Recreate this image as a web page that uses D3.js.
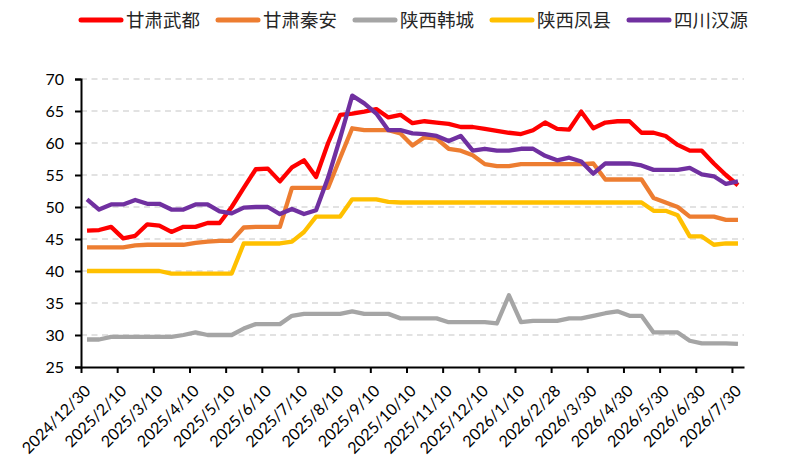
<!DOCTYPE html>
<html>
<head>
<meta charset="utf-8">
<script src="https://cdn.jsdelivr.net/npm/d3@7"></script>
<style>
  html, body { margin: 0; padding: 0; background: #fff; }
  svg { display: block; }
</style>
</head>
<body>
<svg id="chart" width="787" height="474"></svg>
<script>
// 数据：55 个时间点，x 轴每 3 个点标一次日期
const tickLabels = [
  "2024/12/30", "2025/2/10", "2025/3/10", "2025/4/10", "2025/5/10", "2025/6/10",
  "2025/7/10", "2025/8/10", "2025/9/10", "2025/10/10", "2025/11/10", "2025/12/10",
  "2026/1/10", "2026/2/28", "2026/3/30", "2026/4/30", "2026/5/30", "2026/6/30", "2026/7/30"
];

const seriesNames = ["甘肃武都", "甘肃秦安", "陕西韩城", "陕西凤县", "四川汉源"];

const wudu = [
  46.3, 46.4, 46.9, 45.1, 45.5, 47.3, 47.1, 46.1, 46.9, 46.9,
  47.5, 47.5, 50.0, 53.0, 55.9, 56.0, 54.0, 56.2, 57.3, 54.7,
  60.0, 64.4, 64.6, 64.9, 65.3, 64.0, 64.4, 63.1, 63.4, 63.2,
  63.0, 62.5, 62.5, 62.2, 61.9, 61.6, 61.4, 62.0, 63.2, 62.2,
  62.1, 64.9, 62.3, 63.2, 63.4, 63.4, 61.6, 61.6, 61.1, 59.7,
  58.8, 58.8, 56.8, 55.0, 53.4
];
const qinan = [
  43.7, 43.7, 43.7, 43.7, 44.0, 44.1, 44.1, 44.1, 44.1, 44.4,
  44.6, 44.7, 44.7, 46.8, 46.9, 46.9, 46.9, 53.0, 53.0, 53.0,
  53.0, 57.7, 62.3, 62.0, 62.0, 62.0, 61.5, 59.6, 60.9, 60.7,
  59.1, 58.8, 58.1, 56.7, 56.4, 56.4, 56.7, 56.7, 56.7, 56.7,
  56.7, 56.7, 56.8, 54.3, 54.3, 54.3, 54.3, 51.4, 50.7, 50.0,
  48.5, 48.5, 48.5, 48.0, 48.0
];
const hancheng = [
  29.3, 29.3, 29.7, 29.7, 29.7, 29.7, 29.7, 29.7, 30.0, 30.4,
  30.0, 30.0, 30.0, 31.0, 31.7, 31.7, 31.7, 33.0, 33.3, 33.3,
  33.3, 33.3, 33.7, 33.3, 33.3, 33.3, 32.6, 32.6, 32.6, 32.6,
  32.0, 32.0, 32.0, 32.0, 31.8, 36.2, 32.0, 32.2, 32.2, 32.2,
  32.6, 32.6, 33.0, 33.4, 33.7, 33.0, 33.0, 30.4, 30.4, 30.4,
  29.1, 28.7, 28.7, 28.7, 28.6
];
const fengxian = [
  40.0, 40.0, 40.0, 40.0, 40.0, 40.0, 40.0, 39.6, 39.6, 39.6,
  39.6, 39.6, 39.6, 44.3, 44.3, 44.3, 44.3, 44.6, 46.1, 48.5,
  48.5, 48.5, 51.2, 51.2, 51.2, 50.8, 50.7, 50.7, 50.7, 50.7,
  50.7, 50.7, 50.7, 50.7, 50.7, 50.7, 50.7, 50.7, 50.7, 50.7,
  50.7, 50.7, 50.7, 50.7, 50.7, 50.7, 50.7, 49.4, 49.4, 48.7,
  45.4, 45.4, 44.1, 44.3, 44.3
];
const hanyuan = [
  51.2, 49.6, 50.4, 50.4, 51.1, 50.5, 50.5, 49.6, 49.6, 50.4,
  50.4, 49.3, 49.0, 49.9, 50.0, 50.0, 48.9, 49.7, 48.9, 49.5,
  54.6, 60.8, 67.4, 66.2, 64.6, 62.0, 62.0, 61.5, 61.4, 61.1,
  60.3, 61.1, 58.8, 59.1, 58.8, 58.8, 59.1, 59.1, 58.0, 57.3,
  57.7, 57.1, 55.2, 56.8, 56.8, 56.8, 56.5, 55.8, 55.8, 55.8,
  56.1, 55.1, 54.8, 53.6, 54.0
];

const colors = ["#FF0000", "#ED7D31", "#A5A5A5", "#FFC000", "#7030A0"];
const allSeries = [wudu, qinan, hancheng, fengxian, hanyuan];

const svg = d3.select("#chart");
const plot = { left: 81, right: 744, top: 79, bottom: 367 };
const nPoints = wudu.length;

// x：按类目宽度划分，点在类目中心，刻度在类目左边界
const x = d3.scaleLinear().domain([0, nPoints]).range([plot.left, plot.right]);
const y = d3.scaleLinear().domain([25, 70]).range([plot.bottom, plot.top]);

// 网格线（虚线）
svg.append("g")
  .selectAll("line")
  .data(d3.range(30, 71, 5))
  .join("line")
  .attr("x1", plot.left)
  .attr("x2", plot.right)
  .attr("y1", d => y(d))
  .attr("y2", d => y(d))
  .attr("stroke", "#D9D9D9")
  .attr("stroke-width", 1.5)
  .attr("stroke-dasharray", "6,4.5");

// y 轴
const yAxis = svg.append("g")
  .attr("transform", `translate(${plot.left},0)`)
  .call(d3.axisLeft(y).tickValues(d3.range(25, 71, 5)).tickSize(6).tickPadding(11));
yAxis.select(".domain").attr("stroke", "#000").attr("stroke-width", 2);
yAxis.selectAll(".tick line").attr("stroke", "#000").attr("stroke-width", 2);
yAxis.selectAll("text")
  .attr("font-family", "Lato, 'Open Sans', sans-serif")
  .attr("font-size", 16)
  .attr("fill", "#000");

// x 轴
const xAxis = svg.append("g")
  .attr("transform", `translate(0,${plot.bottom})`)
  .call(d3.axisBottom(x)
    .tickValues(d3.range(0, nPoints, 3))
    .tickFormat((d, i) => tickLabels[i])
    .tickSize(6)
    .tickSizeOuter(0));
xAxis.select(".domain").attr("stroke", "#000").attr("stroke-width", 2);
xAxis.selectAll(".tick line").attr("stroke", "#000").attr("stroke-width", 2);
xAxis.selectAll("text")
  .attr("y", null)
  .attr("dy", null)
  .attr("text-anchor", "end")
  .attr("transform", "translate(10,25) rotate(-45)")
  .attr("font-family", "Lato, 'Open Sans', sans-serif")
  .attr("font-size", 16)
  .attr("fill", "#000");

// 折线
const line = d3.line()
  .x((d, i) => x(i + 0.5))
  .y(d => y(d));

svg.append("g")
  .selectAll("path")
  .data(allSeries)
  .join("path")
  .attr("d", d => line(d))
  .attr("fill", "none")
  .attr("stroke", (d, i) => colors[i])
  .attr("stroke-width", 4.3)
  .attr("stroke-linejoin", "round");

// 图例
const legendX = [79, 216, 353, 490, 627];
const legend = svg.append("g")
  .selectAll("g")
  .data(seriesNames)
  .join("g")
  .attr("transform", (d, i) => `translate(${legendX[i]},20)`);

legend.append("line")
  .attr("x1", 2)
  .attr("x2", 42)
  .attr("stroke", (d, i) => colors[i])
  .attr("stroke-width", 5)
  .attr("stroke-linecap", "round");

legend.append("text")
  .attr("x", 47)
  .attr("dy", "0.36em")
  .attr("font-family", "'Noto Sans CJK SC', sans-serif")
  .attr("font-size", 18.5)
  .attr("fill", "#262626")
  .text(d => d);
</script>
</body>
</html>
